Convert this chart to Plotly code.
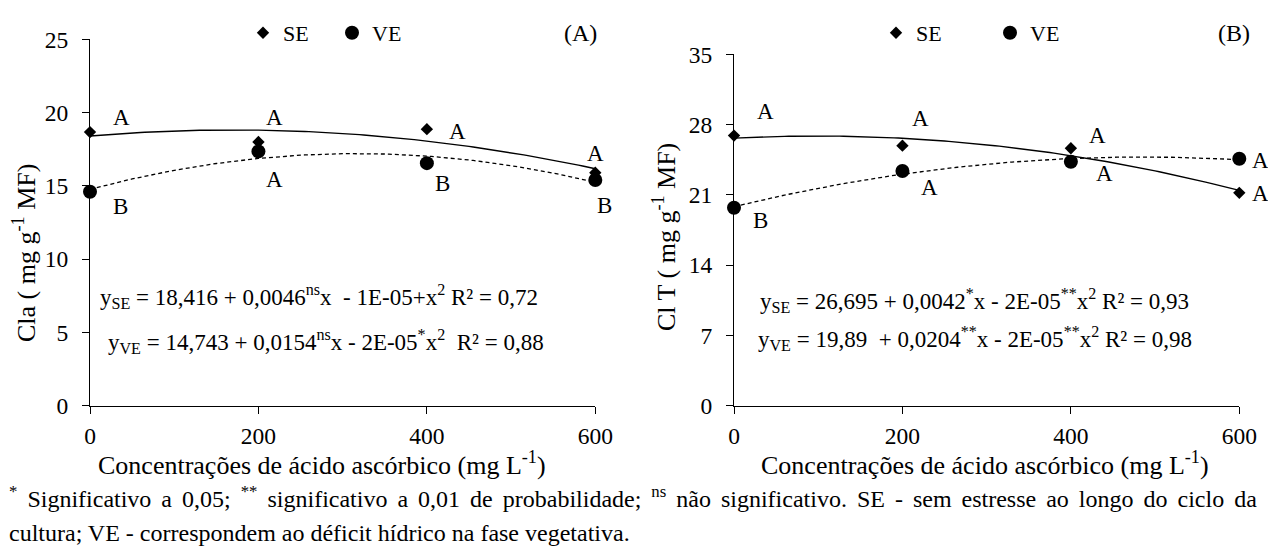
import numpy as np
import plotly.graph_objects as go

W, H = 1268, 547

# ---------------- data ----------------
conc = [0, 200, 400, 600]

# Panel A: Cla (mg g-1 MF)
cla_se = [18.67, 17.99, 18.87, 15.90]
cla_ve = [14.60, 17.35, 16.55, 15.40]
cla_se_letters = ["A", "A", "A", "A"]
cla_ve_letters = ["B", "A", "B", "B"]

# Panel B: Cl T (mg g-1 MF)
clt_se = [26.90, 25.90, 25.64, 21.20]
clt_ve = [19.72, 23.38, 24.30, 24.60]
clt_se_letters = ["A", "A", "A", "A"]
clt_ve_letters = ["B", "A", "A", "A"]

eq_a = [
    "y<sub>SE</sub> = 18,416 + 0,0046<sup>ns</sup>x  - 1E-05+x<sup>2</sup> R² = 0,72",
    "y<sub>VE</sub> = 14,743 + 0,0154<sup>ns</sup>x - 2E-05<sup>*</sup>x<sup>2</sup>  R² = 0,88",
]
eq_b = [
    "y<sub>SE</sub> = 26,695 + 0,0042<sup>*</sup>x - 2E-05<sup>**</sup>x<sup>2</sup> R² = 0,93",
    "y<sub>VE</sub> = 19,89  + 0,0204<sup>**</sup>x - 2E-05<sup>**</sup>x<sup>2</sup> R² = 0,98",
]
yticks_a = [0, 5, 10, 15, 20, 25]
yticks_b = [0, 7, 14, 21, 28, 35]
xticks = [0, 200, 400, 600]

xtitle = "Concentrações de ácido ascórbico (mg L<sup>-1</sup>)"
ytitle_a = "Cla ( mg g<sup>-1</sup> MF)"
ytitle_b = "Cl T ( mg g<sup>-1</sup> MF)"
caption1 = ("<sup>*</sup> Significativo a 0,05; <sup>**</sup> significativo a 0,01 de probabilidade; "
            "<sup>ns</sup> não significativo. SE - sem estresse ao longo do ciclo da")
caption2 = "cultura; VE - correspondem ao déficit hídrico na fase vegetativa."

FONT = "Liberation Serif"


def px(x):
    return x / W


def py(y):
    return 1 - y / H


fig = go.Figure()

xs = np.linspace(0, 600, 121)


def add_panel(xa, ya, se, ve, legend):
    # quadratic trend lines fitted to the data
    cse = np.polyfit(conc, se, 2)
    cve = np.polyfit(conc, ve, 2)
    fig.add_trace(go.Scatter(x=xs, y=np.polyval(cse, xs), mode="lines",
                             line=dict(color="black", width=1.4),
                             xaxis=xa, yaxis=ya, showlegend=False, hoverinfo="skip"))
    fig.add_trace(go.Scatter(x=xs, y=np.polyval(cve, xs), mode="lines",
                             line=dict(color="black", width=1.3, dash="4px,3px"),
                             xaxis=xa, yaxis=ya, showlegend=False, hoverinfo="skip"))
    fig.add_trace(go.Scatter(x=conc, y=se, mode="markers", name="SE",
                             marker=dict(symbol="diamond", size=9.5, color="black"),
                             xaxis=xa, yaxis=ya, legend=legend, cliponaxis=False))
    fig.add_trace(go.Scatter(x=conc, y=ve, mode="markers", name="VE",
                             marker=dict(symbol="circle", size=14, color="black"),
                             xaxis=xa, yaxis=ya, legend=legend, cliponaxis=False))


add_panel("x", "y", cla_se, cla_ve, "legend")
add_panel("x2", "y2", clt_se, clt_ve, "legend2")

annotations = []


def letters(xref, yref, vals, labs, offs):
    for xv, yv, lab, (dx, dy) in zip(conc, vals, labs, offs):
        annotations.append(dict(x=xv, y=yv, xref=xref, yref=yref, text=lab,
                                showarrow=False, xshift=dx, yshift=dy,
                                font=dict(family=FONT, size=23, color="black")))


letters("x", "y", cla_se, cla_se_letters, [(31, 15), (16, 25), (31, -2), (0, 19)])
letters("x", "y", cla_ve, cla_ve_letters, [(30, -15), (16, -28), (16, -20), (9, -25)])
letters("x2", "y2", clt_se, clt_se_letters, [(32, 24), (18, 27), (27, 13), (21, -1)])
letters("x2", "y2", clt_ve, clt_ve_letters, [(27, -13), (27, -17), (34, -12), (21, -2)])


def text_px(x, y, txt, size, xanchor="left", angle=0):
    annotations.append(dict(x=px(x), y=py(y), xref="paper", yref="paper", text=txt,
                            showarrow=False, xanchor=xanchor, yanchor="middle",
                            textangle=angle, borderpad=0,
                            font=dict(family=FONT, size=size, color="black")))


# equations
text_px(99, 296, eq_a[0], 23)
text_px(107, 341, eq_a[1], 23)
text_px(759, 300, eq_b[0], 23)
text_px(757, 338, eq_b[1], 23)
# panel tags
text_px(580, 33, "(A)", 24, "center")
text_px(1234, 33, "(B)", 24, "center")
# axis titles
text_px(322, 463, xtitle, 26, "center")
text_px(985, 463, xtitle, 26, "center")
text_px(24, 253, ytitle_a, 26, "center", -90)
text_px(664, 237, ytitle_b, 26, "center", -90)
# caption (first line is justified in the reference: six-per-em spaces widen the gaps)
text_px(8, 497, caption1.replace(" ", " \u2006"), 24)
text_px(8, 533, caption2, 24)

axis_common = dict(showline=True, linecolor="black", linewidth=1, ticks="outside",
                   ticklen=7, tickwidth=1, tickcolor="black", showgrid=False,
                   zeroline=False, automargin=False,
                   tickfont=dict(family=FONT, size=23.5, color="black"))

fig.update_layout(
    width=W, height=H,
    margin=dict(l=0, r=0, t=0, b=0, autoexpand=False),
    paper_bgcolor="white", plot_bgcolor="white",
    font=dict(family=FONT, color="black"),
    xaxis=dict(domain=[px(90), px(595.3)], range=[0, 600], tickvals=xticks,
               anchor="y", ticklabelstandoff=2, **axis_common),
    yaxis=dict(domain=[py(405.7), py(39.3)], range=[0, 25], tickvals=yticks_a,
               anchor="x", ticklabelstandoff=9, **axis_common),
    xaxis2=dict(domain=[px(734), px(1239.3)], range=[0, 600], tickvals=xticks,
                anchor="y2", ticklabelstandoff=2, **axis_common),
    yaxis2=dict(domain=[py(405.7), py(54.3)], range=[0, 35], tickvals=yticks_b,
                anchor="x2", ticklabelstandoff=9, **axis_common),
    legend=dict(orientation="h", x=px(243), y=py(33), xanchor="left", yanchor="middle",
                font=dict(family=FONT, size=22, color="black"), bgcolor="rgba(0,0,0,0)",
                itemwidth=30, entrywidth=44),
    legend2=dict(orientation="h", x=px(876), y=py(33), xanchor="left", yanchor="middle",
                 font=dict(family=FONT, size=22, color="black"), bgcolor="rgba(0,0,0,0)",
                 itemwidth=30, entrywidth=69),
    annotations=annotations,
)

fig.write_html("out.html", config={"displayModeBar": False},
               post_script="document.body.style.margin='0';")
